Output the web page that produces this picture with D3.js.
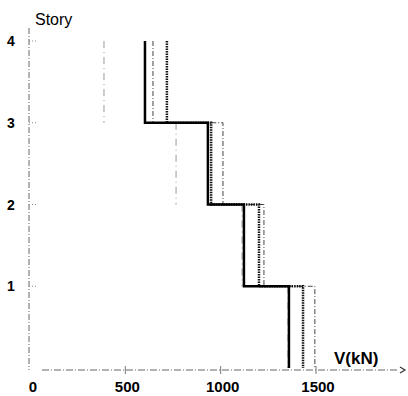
<!DOCTYPE html>
<html>
<head>
<meta charset="utf-8">
<script src="https://cdn.jsdelivr.net/npm/d3@7"></script>
<style>
  body { margin: 0; background: #fff; }
  svg { display: block; font-family: "Liberation Sans", Arial, sans-serif; }
</style>
</head>
<body>
<svg id="chart" width="408" height="396"></svg>
<script>
"use strict";

// story levels and shear per story (kN)
const stories = [1, 2, 3, 4];
const shearSolid  = [1358, 1122, 933, 603];
const shearDotted = [1432, 1201, 950, 718];
const shearDashed = [1494, 1227, 1012, 645];
const shearFaint  = [1353, 1112, 766, 388];
const xTicks = [0, 500, 1000, 1500];
const yTicks = [1, 2, 3, 4];

const svg = d3.select('#chart');
const x = d3.scaleLinear().domain([0, 1500]).range([30, 316]);
const y = d3.scaleLinear().domain([0, 4]).range([368, 41]);

// step profile from top story down to ground
function stepPoints(vals) {
    var pts = [];
    for (var i = stories.length - 1; i >= 0; i--) {
        pts.push([vals[i], stories[i]]);
        pts.push([vals[i], stories[i] - 1]);
    }
    return pts;
}
const line = d3.line().x(d => x(d[0])).y(d => y(d[1]));

// axes, dash-dot like the scan
const axisColor = '#666';
svg.append('line')
    .attr('x1', x(0) - 1).attr('x2', x(0) - 1)
    .attr('y1', 28).attr('y2', y(0) + 2)
    .attr('stroke', axisColor).attr('stroke-width', 1)
    .attr('stroke-dasharray', '6,2,1,2');
svg.append('line')
    .attr('x1', x(0) + 12).attr('x2', 398)
    .attr('y1', y(0) + 2).attr('y2', y(0) + 2)
    .attr('stroke', axisColor).attr('stroke-width', 1)
    .attr('stroke-dasharray', '7,2,1,2');
svg.append('path')
    .attr('d', 'M400,' + (y(0) - 1) + 'L405,' + (y(0) + 2) + 'L400,' + (y(0) + 5))
    .attr('fill', 'none').attr('stroke', '#333').attr('stroke-width', 1.2);

// y ticks and labels
svg.selectAll('.ytick').data(yTicks).enter().append('line')
    .attr('x1', x(0) - 1).attr('x2', x(0) + 8)
    .attr('y1', d => y(d)).attr('y2', d => y(d))
    .attr('stroke', '#888').attr('stroke-dasharray', '1,2');
svg.selectAll('.ylab').data(yTicks).enter().append('text')
    .attr('x', 11).attr('y', d => y(d) + 5)
    .attr('text-anchor', 'middle')
    .style('font-size', '14px').style('font-weight', 'bold')
    .text(d => d);

// x ticks and labels
svg.selectAll('.xtick').data(xTicks.slice(1)).enter().append('line')
    .attr('x1', d => x(d)).attr('x2', d => x(d))
    .attr('y1', y(0) - 2).attr('y2', y(0) + 6)
    .attr('stroke', '#777').attr('stroke-width', 1);
svg.selectAll('.xlab').data(xTicks).enter().append('text')
    .attr('x', d => x(d) + (d === 0 ? 3 : 2)).attr('y', 392)
    .attr('text-anchor', 'middle')
    .style('font-size', '15px').style('font-weight', 'bold')
    .text(d => d);

svg.append('text').attr('x', 35).attr('y', 25)
    .style('font-size', '16px').text('Story');
svg.append('text').attr('x', 334).attr('y', 364)
    .style('font-size', '17px').style('font-weight', 'bold').text('V(kN)');

// faint dash-dot profile: only the verticals survived the scan
svg.selectAll('.faint').data(stories).enter().append('line')
    .attr('x1', (d, i) => x(shearFaint[i])).attr('x2', (d, i) => x(shearFaint[i]))
    .attr('y1', d => y(d)).attr('y2', d => y(d - 1))
    .attr('stroke', '#999').attr('stroke-width', 1)
    .attr('stroke-dasharray', '7,4,1,4');

svg.append('path').attr('d', line(stepPoints(shearDashed)))
    .attr('fill', 'none').attr('stroke', '#444').attr('stroke-width', 1)
    .attr('stroke-dasharray', '5,2,1,2');

svg.append('path').attr('d', line(stepPoints(shearDotted)))
    .attr('fill', 'none').attr('stroke', '#111').attr('stroke-width', 2.5)
    .attr('stroke-dasharray', '1.5,1');

svg.append('path').attr('d', line(stepPoints(shearSolid)))
    .attr('fill', 'none').attr('stroke', '#000').attr('stroke-width', 2.5);
</script>
</body>
</html>
